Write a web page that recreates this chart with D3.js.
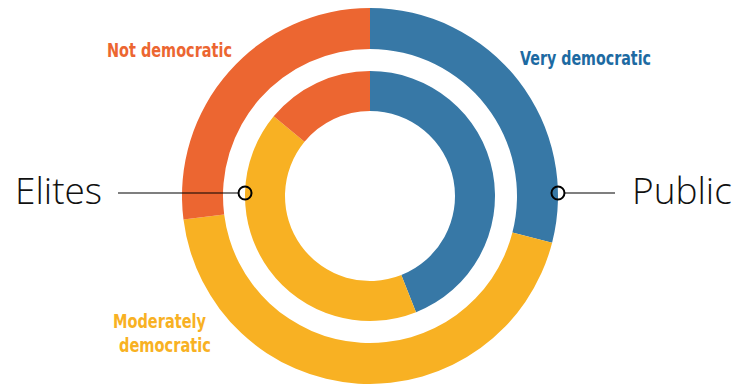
<!DOCTYPE html>
<html>
<head>
<meta charset="utf-8">
<script src="https://cdn.jsdelivr.net/npm/d3@7"></script>
<style>
  body { margin: 0; background: #fff; }
  svg { display: block; }
</style>
</head>
<body>
<svg width="739" height="388"></svg>
<script>
// data
var categories = ["Very democratic", "Moderately democratic", "Not democratic"];
var publicValues = [29, 44, 27];
var eliteValues = [44, 42, 14];
var colors = ["#3778a6", "#f8b123", "#ec6631"];
var labelColors = ["#1d6aa2", "#f8b123", "#ec6631"];

var svg = d3.select("svg"),
    width = +svg.attr("width"),
    height = +svg.attr("height");

var cx = 370, cy = 196;

var g = svg.append("g").attr("transform", "translate(" + cx + "," + cy + ")");

var pie = d3.pie().sort(null);

var outerArc = d3.arc().innerRadius(147).outerRadius(188);
var innerArc = d3.arc().innerRadius(85).outerRadius(125);

// outer ring = public
g.selectAll(".outer")
  .data(pie(publicValues))
  .enter()
  .append("path")
    .attr("class", "outer")
    .attr("d", outerArc)
    .attr("fill", function(d, i){ return colors[i] });

// inner ring = elites
g.selectAll(".inner")
  .data(pie(eliteValues))
  .enter()
  .append("path")
    .attr("class", "inner")
    .attr("d", innerArc)
    .attr("fill", function(d, i){ return colors[i] });

// category labels (condensed look squeezed via textLength)
function label(x, y, txt, w, color) {
  svg.append("text")
    .attr("x", x).attr("y", y)
    .attr("fill", color)
    .attr("textLength", w)
    .attr("lengthAdjust", "spacingAndGlyphs")
    .style("font-family", "'DejaVu Sans', sans-serif")
    .style("font-weight", "bold")
    .style("font-size", "19px")
    .text(txt);
}
label(520, 65, categories[0], 131, labelColors[0]);
label(107, 57, categories[2], 125, labelColors[2]);
label(113, 328, "Moderately", 93, labelColors[1]);
label(119, 352, "democratic", 92, labelColors[1]);

// ring callouts
var markY = 193;
var yOff = markY - cy;
var leftX = cx - Math.sqrt(125 * 125 - yOff * yOff);
var rightX = cx + Math.sqrt(188 * 188 - yOff * yOff);

svg.append("line")
  .attr("x1", 118).attr("x2", leftX - 7)
  .attr("y1", markY).attr("y2", markY)
  .attr("stroke", "#000").attr("stroke-width", 1.2);
svg.append("circle")
  .attr("cx", leftX).attr("cy", markY).attr("r", 6.5)
  .attr("fill", "none").attr("stroke", "#000").attr("stroke-width", 2);

svg.append("line")
  .attr("x1", rightX + 7).attr("x2", 615)
  .attr("y1", markY).attr("y2", markY)
  .attr("stroke", "#000").attr("stroke-width", 1.2);
svg.append("circle")
  .attr("cx", rightX).attr("cy", markY).attr("r", 6.5)
  .attr("fill", "none").attr("stroke", "#000").attr("stroke-width", 2);

svg.append("text")
  .attr("x", 15).attr("y", 204)
  .attr("fill", "#111")
  .style("font-family", "'Open Sans', sans-serif")
  .style("font-weight", 300)
  .style("font-size", "37px")
  .text("Elites");

svg.append("text")
  .attr("x", 632).attr("y", 204)
  .attr("fill", "#111")
  .style("font-family", "'Open Sans', sans-serif")
  .style("font-weight", 300)
  .style("font-size", "37px")
  .text("Public");
</script>
</body>
</html>
